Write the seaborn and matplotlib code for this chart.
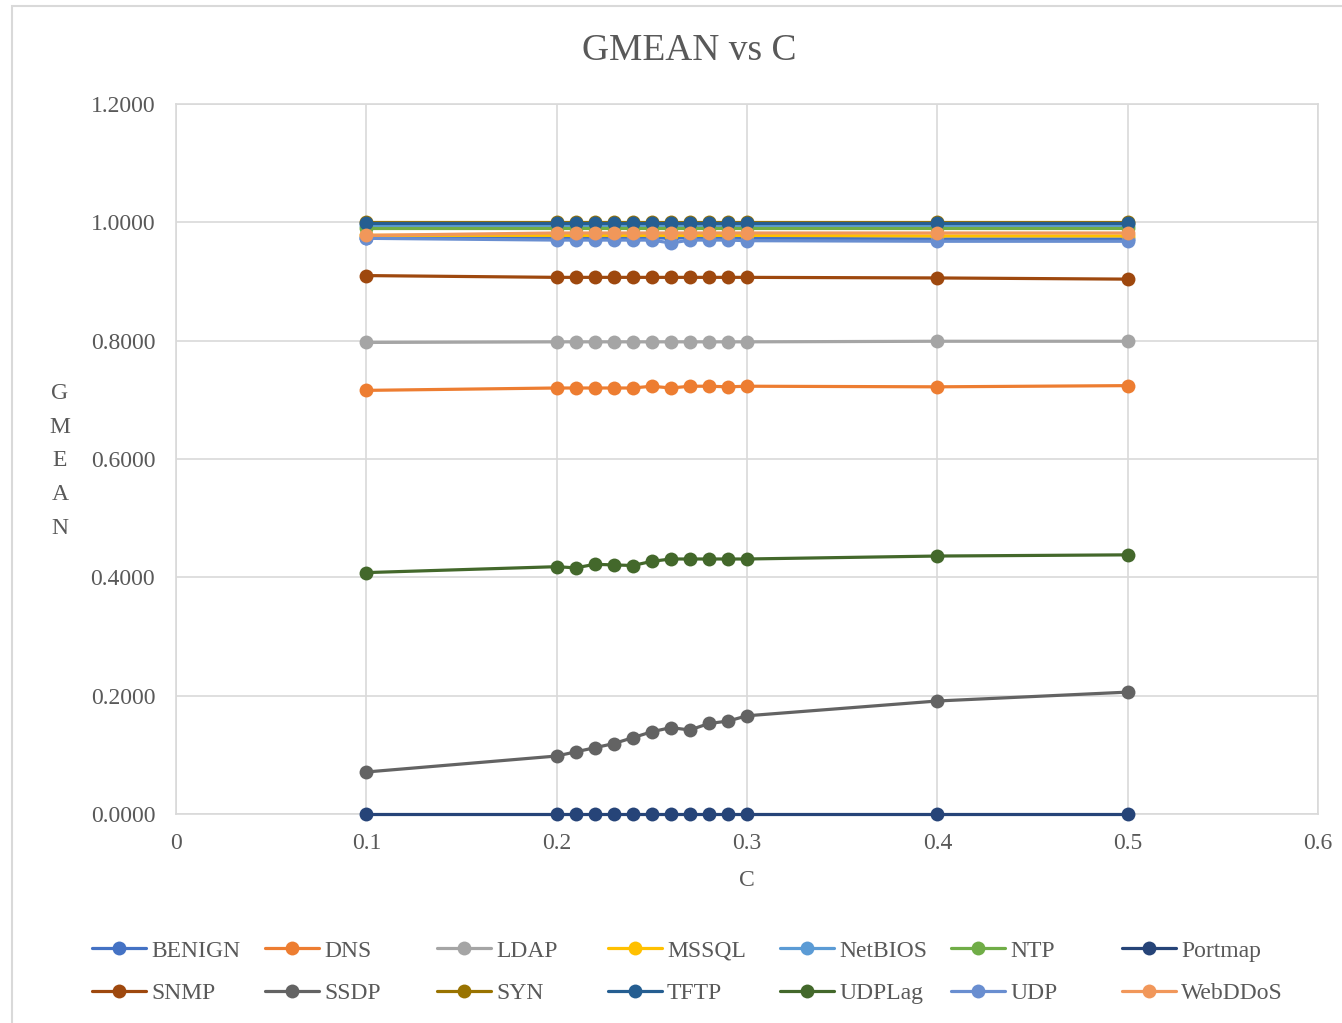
import numpy as np
import pandas as pd
import seaborn as sns
import matplotlib
matplotlib.use("Agg")
import matplotlib.pyplot as plt
from matplotlib.patches import Rectangle

# Regularisation parameter C
c_values = [0.1, 0.2, 0.21, 0.22, 0.23, 0.24, 0.25, 0.26, 0.27, 0.28, 0.29, 0.3, 0.4, 0.5]

classes = ["BENIGN", "DNS", "LDAP", "MSSQL", "NetBIOS", "NTP", "Portmap",
           "SNMP", "SSDP", "SYN", "TFTP", "UDPLag", "UDP", "WebDDoS"]

benign  = [0.974, 0.974, 0.974, 0.974, 0.974, 0.974, 0.974, 0.973, 0.974, 0.974, 0.974, 0.973, 0.972, 0.972]
dns     = [0.716, 0.720, 0.720, 0.720, 0.720, 0.720, 0.723, 0.720, 0.723, 0.723, 0.722, 0.723, 0.722, 0.724]
ldap    = [0.797, 0.798, 0.798, 0.798, 0.798, 0.798, 0.798, 0.798, 0.798, 0.798, 0.798, 0.798, 0.799, 0.799]
mssql   = [0.978, 0.978, 0.978, 0.978, 0.978, 0.978, 0.978, 0.978, 0.978, 0.978, 0.978, 0.978, 0.977, 0.977]
netbios = [0.995, 0.995, 0.995, 0.995, 0.995, 0.995, 0.995, 0.995, 0.995, 0.995, 0.995, 0.995, 0.995, 0.995]
ntp     = [0.991, 0.991, 0.991, 0.991, 0.991, 0.991, 0.991, 0.991, 0.991, 0.991, 0.991, 0.991, 0.991, 0.991]
portmap = [0.000, 0.000, 0.000, 0.000, 0.000, 0.000, 0.000, 0.000, 0.000, 0.000, 0.000, 0.000, 0.000, 0.000]
snmp    = [0.910, 0.907, 0.907, 0.907, 0.907, 0.907, 0.907, 0.907, 0.907, 0.907, 0.907, 0.907, 0.906, 0.904]
ssdp    = [0.071, 0.098, 0.105, 0.112, 0.119, 0.129, 0.139, 0.146, 0.142, 0.153, 0.157, 0.166, 0.191, 0.206]
syn     = [1.000, 1.000, 1.000, 1.000, 1.000, 1.000, 1.000, 1.000, 1.000, 1.000, 1.000, 1.000, 1.000, 1.000]
tftp    = [0.999, 0.999, 0.999, 0.999, 0.999, 0.999, 0.999, 0.999, 0.999, 0.999, 0.999, 0.999, 0.999, 0.999]
udplag  = [0.408, 0.418, 0.416, 0.422, 0.421, 0.420, 0.427, 0.431, 0.431, 0.431, 0.431, 0.431, 0.436, 0.438]
udp     = [0.973, 0.970, 0.970, 0.970, 0.970, 0.970, 0.970, 0.965, 0.970, 0.970, 0.970, 0.969, 0.968, 0.968]
webddos = [0.978, 0.982, 0.982, 0.982, 0.982, 0.982, 0.982, 0.982, 0.982, 0.982, 0.982, 0.982, 0.982, 0.982]

series = [benign, dns, ldap, mssql, netbios, ntp, portmap,
          snmp, ssdp, syn, tftp, udplag, udp, webddos]

colors = ["#4472C4", "#ED7D31", "#A5A5A5", "#FFC000", "#5B9BD5", "#70AD47", "#264478",
          "#9E480E", "#636363", "#997300", "#255E91", "#43682B", "#698ED0", "#F1975A"]

y_ticks = [0.0, 0.2, 0.4, 0.6, 0.8, 1.0, 1.2]
x_ticks = [0, 0.1, 0.2, 0.3, 0.4, 0.5, 0.6]
x_tick_labels = ["0", "0.1", "0.2", "0.3", "0.4", "0.5", "0.6"]

df = pd.DataFrame({
    "C": np.tile(c_values, len(classes)),
    "GMEAN": np.concatenate(series),
    "Class": np.repeat(classes, len(c_values)),
})

sns.set_theme(style="white")
plt.rcParams["font.family"] = ["Liberation Serif", "DejaVu Serif"]
text_color = "#595959"
grid_color = "#D9D9D9"

fig = plt.figure(figsize=(13.42, 10.23), dpi=100)
ax = fig.add_axes([176 / 1342, 1 - 814 / 1023, (1318 - 176) / 1342, (814 - 104) / 1023])

sns.lineplot(data=df, x="C", y="GMEAN", hue="Class", hue_order=classes,
             palette=dict(zip(classes, colors)), marker="o", markersize=10,
             markeredgewidth=0, linewidth=2.3, legend=False, ax=ax,
             estimator=None, sort=False)
for ln in ax.get_lines():
    ln.set_clip_on(False)
    ln.set_zorder(3)

ax.set_xlim(0, 0.6)
ax.set_ylim(0, 1.2)
ax.set_xticks(x_ticks)
ax.set_xticklabels(x_tick_labels)
ax.set_yticks(y_ticks)
ax.set_yticklabels([f"{v:.4f}" for v in y_ticks])
ax.tick_params(axis="both", length=0, labelsize=17, labelcolor=text_color)
ax.tick_params(axis="x", pad=13.5)
ax.tick_params(axis="y", pad=15)
ax.grid(True, color=grid_color, linewidth=1.2)
ax.set_axisbelow(True)
for sp in ax.spines.values():
    sp.set_color(grid_color)
    sp.set_linewidth(1.2)
    sp.set_zorder(1)

ax.set_xlabel("C", fontsize=17, color=text_color, labelpad=12)
ax.set_ylabel("")
fig.text(60 / 1342, 1 - 461 / 1023, "G\nM\nE\nA\nN", fontsize=17, color=text_color,
         ha="center", va="center", linespacing=1.8)

fig.text(689 / 1342, 1 - 51 / 1023, "GMEAN vs C", fontsize=27, color=text_color,
         ha="center", va="center")

# Legend: seven columns of two entries each
lines = ax.get_lines()
col_x = [92, 265, 437, 608, 780, 951, 1122]
for i, x in enumerate(col_x):
    handles = [lines[i], lines[i + 7]]
    labels = [classes[i], classes[i + 7]]
    fig.legend(handles, labels, loc="upper left",
               bbox_to_anchor=(x / 1342, 1 - 940 / 1023),
               frameon=False, fontsize=17, labelcolor=text_color,
               handlelength=2.3, handletextpad=0.2, borderpad=0,
               borderaxespad=0, labelspacing=0.88)

# Outer chart border
fig.patches.append(Rectangle((12 / 1342, -0.1), 1.2, 1 - 6 / 1023 + 0.1,
                             transform=fig.transFigure, fill=False,
                             edgecolor=grid_color, linewidth=1.5))

fig.savefig("out.png", dpi=100)
